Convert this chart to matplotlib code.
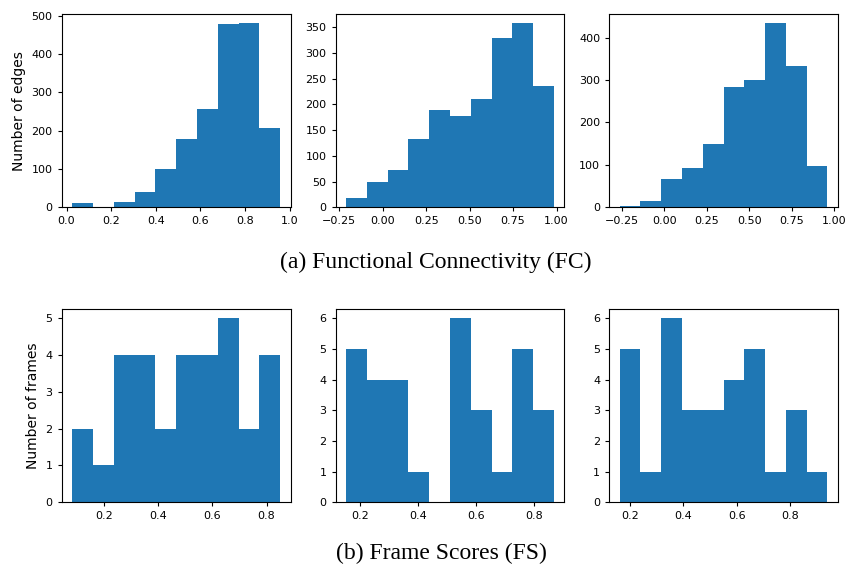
import numpy as np
import matplotlib
matplotlib.use("Agg")
import matplotlib.pyplot as plt

# histogram counts (10 bins each) and the data range of the bins
fc_counts = [
    [10, 2, 14, 39, 100, 178, 256, 479, 481, 208],
    [18, 50, 72, 132, 189, 177, 211, 330, 358, 236],
    [4, 14, 67, 93, 150, 284, 299, 434, 332, 97],
]
fc_ranges = [(0.025, 0.958), (-0.211, 0.985), (-0.264, 0.96)]

fs_counts = [
    [2, 1, 4, 4, 2, 4, 4, 5, 2, 4],
    [5, 4, 4, 1, 0, 6, 3, 1, 5, 3],
    [5, 1, 6, 3, 3, 4, 5, 1, 3, 1],
]
fs_ranges = [(0.081, 0.851), (0.152, 0.867), (0.162, 0.938)]

fc_yticks = [[0, 100, 200, 300, 400, 500],
             [0, 50, 100, 150, 200, 250, 300, 350],
             [0, 100, 200, 300, 400]]
fc_xticks = [[0.0, 0.2, 0.4, 0.6, 0.8, 1.0],
             [-0.25, 0.0, 0.25, 0.5, 0.75, 1.0],
             [-0.25, 0.0, 0.25, 0.5, 0.75, 1.0]]
fs_xticks = [0.2, 0.4, 0.6, 0.8]

W, H = 846, 566
fig = plt.figure(figsize=(W / 100, H / 100), dpi=100)

lefts = [61.7, 335.7, 609.3]
widths = [229.0, 228.6, 228.4]
rows = [(14.0, 207.3), (309.0, 502.3)]


def draw_hist(ax, counts, rng):
    edges = np.linspace(rng[0], rng[1], len(counts) + 1)
    ax.bar(edges[:-1], counts, width=np.diff(edges), align='edge',
           color='#1f77b4', linewidth=0)
    ax.tick_params(labelsize=8, length=3, width=0.8)
    for s in ax.spines.values():
        s.set_linewidth(0.8)


for i in range(3):
    top, bot = rows[0]
    ax = fig.add_axes([lefts[i] / W, 1 - bot / H, widths[i] / W, (bot - top) / H])
    draw_hist(ax, fc_counts[i], fc_ranges[i])
    ax.set_yticks(fc_yticks[i])
    ax.set_xticks(fc_xticks[i])
    if i == 0:
        ax.set_xticklabels(['0.0', '0.2', '0.4', '0.6', '0.8', '1.0'])
        ax.set_ylabel('Number of edges', fontsize=10)
    else:
        ax.set_xticklabels(['\u22120.25', '0.00', '0.25', '0.50', '0.75', '1.00'])

for i in range(3):
    top, bot = rows[1]
    ax = fig.add_axes([lefts[i] / W, 1 - bot / H, widths[i] / W, (bot - top) / H])
    draw_hist(ax, fs_counts[i], fs_ranges[i])
    ax.set_xticks(fs_xticks)
    ax.set_yticks(range(0, max(fs_counts[i]) + 1))
    if i == 0:
        ax.set_ylabel('Number of frames', fontsize=10)

fig.text(436 / W, 1 - 262 / H, '(a) Functional Connectivity (FC)',
         family='Liberation Serif', fontsize=17, ha='center', va='center')
fig.text(441 / W, 1 - 553 / H, '(b) Frame Scores (FS)',
         family='Liberation Serif', fontsize=17, ha='center', va='center')

fig.savefig('out.png', dpi=100)
